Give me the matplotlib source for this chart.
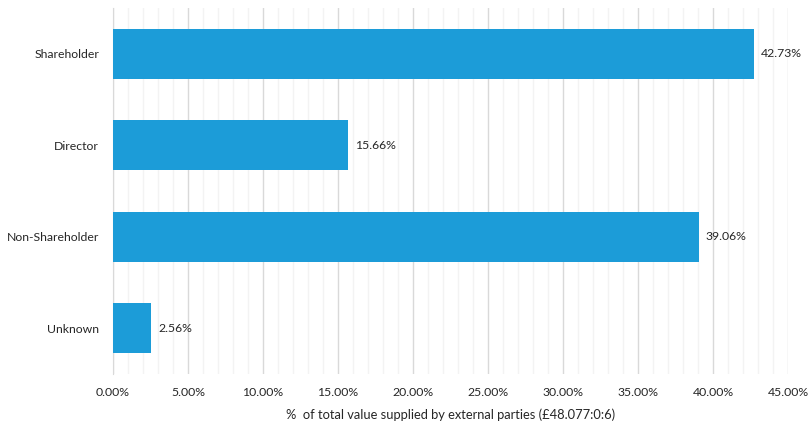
import matplotlib.pyplot as plt
from matplotlib.ticker import MultipleLocator, FuncFormatter

categories = ["Shareholder", "Director", "Non-Shareholder", "Unknown"]
shares = [42.73, 15.66, 39.06, 2.56]

plt.rcParams['font.family'] = ['Lato', 'DejaVu Sans']

fig = plt.figure(figsize=(8.10, 4.24), dpi=100)
ax = fig.add_axes([113 / 810, 1 - 374 / 424, 675 / 810, 366 / 424])

pos = list(range(len(categories)))
ax.barh(pos, shares, height=0.55, color="#1C9CD8", zorder=3)
for y, v in zip(pos, shares):
    ax.text(v + 0.45, y, f"{v:.2f}%", va="center", ha="left", fontsize=8.8, color="#262626")

ax.set_yticks(pos)
ax.set_yticklabels(categories, fontsize=8.8, color="#262626")
ax.set_ylim(3.5, -0.5)
ax.set_xlim(0, 45)

ax.xaxis.set_major_locator(MultipleLocator(5))
ax.xaxis.set_minor_locator(MultipleLocator(1))
ax.xaxis.set_major_formatter(FuncFormatter(lambda x, _: f"{x:.2f}%"))
ax.tick_params(axis="x", labelsize=8.8, labelcolor="#262626", length=0, which="both", pad=9)
ax.tick_params(axis="y", length=0, pad=10)

ax.grid(axis="x", which="major", color="#d9d9d9", linewidth=1.0, zorder=0)
ax.grid(axis="x", which="minor", color="#f3f3f3", linewidth=1.0, zorder=0)
ax.set_axisbelow(True)

for side in ["top", "right", "bottom"]:
    ax.spines[side].set_visible(False)
ax.spines["left"].set_color("#d9d9d9")

ax.set_xlabel("%  of total value supplied by external parties (£48.077:0:6)", fontsize=9.3, color="#262626", labelpad=8)

fig.savefig("out.png", dpi=100)
